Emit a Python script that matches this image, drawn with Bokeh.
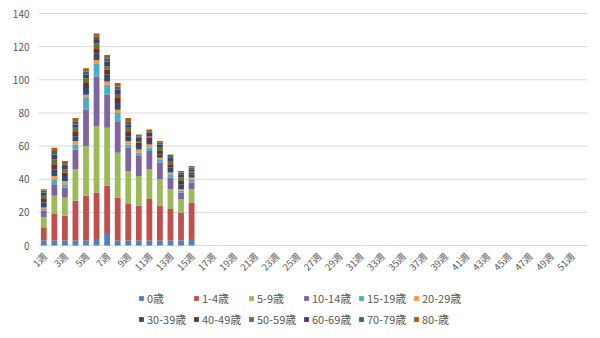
import math
from bokeh.plotting import figure
from bokeh.models import ColumnDataSource, Legend, LegendItem, Range1d
from bokeh.core.properties import value
from bokeh.embed import file_html
from bokeh.resources import INLINE

# ---- data ----
weeks = list(range(1, 53))
week_labels = [f"{w}週" for w in weeks]
label_weeks = list(range(1, 53, 2))
y_ticks = [0, 20, 40, 60, 80, 100, 120, 140]
y_tick_labels = [str(t) for t in y_ticks]

age_groups = ["0歳", "1-4歳", "5-9歳", "10-14歳", "15-19歳", "20-29歳",
              "30-39歳", "40-49歳", "50-59歳", "60-69歳", "70-79歳", "80-歳"]
colors = ["#4F81BD", "#C0504D", "#9BBB59", "#8064A2", "#4BACC6", "#F79646",
          "#2C4D75", "#772C2A", "#5F7530", "#4D3B62", "#276A7C", "#B65708"]

data_weeks = list(range(1, 16))
age_0     = [3, 3, 3, 3, 3, 4, 7, 3, 3, 3, 3, 3, 3, 3, 4]
age_1_4   = [8, 16, 15, 24, 27, 28, 29, 26, 22, 21, 25, 21, 19, 17, 22]
age_5_9   = [6, 11, 11, 19, 30, 40, 35, 27, 20, 18, 18, 16, 12, 8, 8]
age_10_14 = [4, 7, 6, 12, 22, 30, 20, 19, 14, 12, 11, 10, 7, 4, 4]
age_15_19 = [1, 3, 2, 3, 7, 8, 6, 5, 2, 2, 2, 2, 2, 1, 2]
age_20_29 = [1, 2, 2, 2, 2, 2, 2, 2, 2, 2, 2, 1, 1, 1, 1]
age_30_39 = [3, 4, 3, 3, 4, 4, 4, 4, 3, 2, 2, 2, 3, 3, 2]
age_40_49 = [2, 3, 2, 3, 3, 3, 3, 3, 3, 2, 2, 2, 2, 2, 1]
age_50_59 = [2, 3, 2, 2, 3, 3, 2, 2, 2, 1, 1, 2, 2, 2, 1]
age_60_69 = [2, 3, 2, 2, 2, 2, 3, 3, 2, 2, 2, 2, 2, 2, 1]
age_70_79 = [1, 2, 1, 2, 2, 2, 2, 2, 2, 1, 1, 1, 1, 1, 1]
age_80    = [1, 2, 2, 2, 2, 2, 2, 2, 2, 1, 1, 1, 1, 1, 1]

series = [age_0, age_1_4, age_5_9, age_10_14, age_15_19, age_20_29,
          age_30_39, age_40_49, age_50_59, age_60_69, age_70_79, age_80]
keys = [f"s{i}" for i in range(len(series))]

src = ColumnDataSource(dict(week=data_weeks, **{k: v for k, v in zip(keys, series)}))

FONT = "Noto Sans CJK JP"
TXT = "#595959"
GRID = "#D9D9D9"

x_lo = weeks[0] - 0.5
x_hi = weeks[-1] + 0.5

# the frame fills the page so that axis labels and legend can sit inside it
p = figure(width=600, height=338, output_backend="svg", toolbar_location=None,
           x_range=Range1d(-3.1, x_hi), y_range=Range1d(-56.1, 147.85),
           min_border_left=0, min_border_right=13, min_border_top=0,
           min_border_bottom=0)
p.outline_line_color = None
p.background_fill_color = "white"
p.border_fill_color = "white"
p.xaxis.visible = False
p.yaxis.visible = False
p.xgrid.grid_line_color = None
p.ygrid.grid_line_color = None

# horizontal grid lines over the category span
p.segment(x0=[x_lo] * len(y_ticks), x1=[x_hi] * len(y_ticks), y0=y_ticks, y1=y_ticks,
          line_color=GRID, line_width=1)

renderers = p.vbar_stack(keys, x="week", width=0.55, color=colors, source=src,
                         line_color=None)

# y tick labels
ylab = ColumnDataSource(dict(x=[x_lo] * len(y_ticks), y=y_ticks, t=y_tick_labels))
p.text(x="x", y="y", text="t", source=ylab, text_align="right", text_baseline="middle",
       x_offset=-9, text_font=value(FONT), text_font_size="10px", text_color=TXT)

# x tick labels (every other week), rotated 45 degrees
lab_src = ColumnDataSource(dict(x=label_weeks, y=[0] * len(label_weeks),
                                t=[week_labels[w - 1] for w in label_weeks]))
p.text(x="x", y="y", text="t", source=lab_src, angle=math.pi / 4,
       text_align="right", text_baseline="middle", x_offset=1, y_offset=9,
       text_font=value(FONT), text_font_size="9.5px", text_color=TXT)

items = [LegendItem(label=a, renderers=[r]) for a, r in zip(age_groups, renderers)]
common = dict(orientation="horizontal", border_line_color=None,
              background_fill_alpha=0, label_text_font=FONT, label_text_font_size="11px",
              label_text_color=TXT, glyph_width=6, glyph_height=6, label_standoff=3,
              spacing=4, label_width=42, label_height=14, padding=0, margin=0)
legend1 = Legend(items=items[:6], location=(138, 32), **common)
legend2 = Legend(items=items[6:], location=(138, 11), **common)
p.add_layout(legend1, "center")
p.add_layout(legend2, "center")

open("out.html", "w").write(file_html(p, INLINE))
